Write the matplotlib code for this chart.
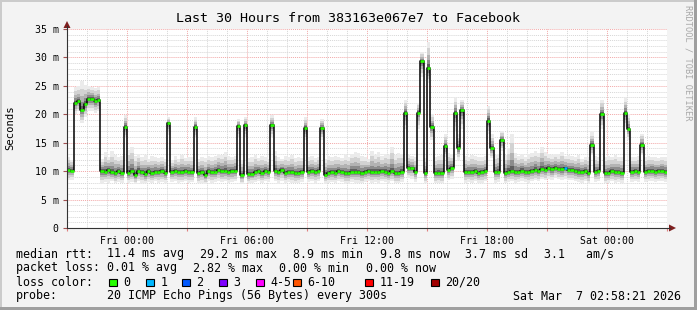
import matplotlib
matplotlib.use('Agg')
import matplotlib.pyplot as plt
import numpy as np
from matplotlib.patches import Rectangle, Polygon
from matplotlib.ticker import MultipleLocator, FixedLocator

# Data: 10 minute steps, hours relative to Fri 00:00
t_start = -3.0
step_h = 1 / 6

median_ms = [
    10.2, 10.1, 22.0, 22.3, 20.7, 21.8, 22.7, 22.7, 22.3, 22.5,
    10.0, 9.9, 10.2, 9.8, 9.6, 10.0, 9.7, 17.8, 9.7, 10.0,
    9.3, 10.1, 9.8, 9.5, 10.0, 9.6, 9.9, 9.8, 10.0, 9.7,
    18.4, 9.9, 10.0, 9.9, 9.8, 10.0, 9.9, 9.8, 17.8, 9.6,
    9.8, 9.3, 10.0, 9.8, 9.9, 10.2, 10.0, 10.1, 9.9, 10.0,
    10.1, 18.0, 9.3, 18.1, 9.5, 9.5, 9.8, 10.0, 9.7, 10.1,
    9.9, 18.1, 10.0, 9.8, 10.2, 9.7, 9.9, 9.8, 9.6, 9.7,
    9.9, 17.6, 9.9, 10.0, 9.8, 10.0, 17.6, 9.4, 9.7, 9.8,
    9.7, 10.0, 9.9, 9.6, 9.6, 9.9, 9.8, 9.8, 9.6, 9.9,
    10.0, 9.8, 9.9, 9.8, 10.0, 9.9, 9.7, 10.0, 9.6, 9.6,
    9.9, 20.3, 10.6, 10.5, 9.9, 20.3, 29.3, 9.6, 28.1, 17.8,
    9.6, 9.7, 9.6, 14.4, 10.2, 10.5, 20.3, 14.0, 20.7, 9.8,
    9.9, 9.8, 10.0, 9.7, 9.8, 10.0, 18.9, 14.1, 9.8, 9.9,
    15.5, 9.6, 9.9, 10.0, 9.8, 9.9, 10.1, 9.9, 9.8, 10.0,
    10.2, 10.0, 10.4, 10.2, 10.5, 10.3, 10.6, 10.4, 10.3, 10.5,
    10.2, 10.2, 10.0, 9.9, 9.8, 10.0, 9.6, 14.6, 9.9, 10.0,
    20.0, 9.6, 9.7, 10.0, 9.8, 9.9, 9.7, 20.3, 17.5, 9.9,
    10.0, 9.9, 14.6, 9.9, 10.0, 10.1, 9.9, 10.0, 10.1, 9.9,
]

ping_min = [
    8.4, 8.5, 20.0, 20.5, 18.5, 19.5, 20.5, 20.5, 20.3, 20.5,
    8.0, 8.1, 8.0, 8.2, 7.9, 8.1, 8.0, 15.8, 8.0, 8.1,
    7.8, 8.2, 8.0, 7.9, 8.1, 8.0, 8.2, 8.0, 8.1, 8.0,
    16.3, 8.1, 8.2, 8.0, 8.1, 8.2, 8.0, 8.1, 15.8, 7.9,
    8.0, 7.8, 8.2, 8.0, 8.1, 8.3, 8.1, 8.2, 8.0, 8.1,
    8.2, 16.0, 7.8, 16.0, 7.9, 8.0, 8.1, 8.2, 8.0, 8.2,
    8.1, 16.0, 8.2, 8.0, 8.3, 8.0, 8.1, 8.0, 7.9, 8.0,
    8.1, 15.5, 8.1, 8.2, 8.0, 8.2, 15.5, 7.8, 8.0, 8.1,
    8.0, 8.2, 8.1, 7.9, 7.9, 8.1, 8.0, 8.0, 7.9, 8.1,
    8.2, 8.0, 8.1, 8.0, 8.2, 8.1, 8.0, 8.2, 7.9, 7.9,
    8.1, 17.5, 8.8, 8.7, 8.1, 17.5, 26.5, 7.9, 25.5, 15.5,
    7.9, 8.0, 7.9, 12.5, 8.4, 8.7, 17.0, 12.0, 17.5, 8.0,
    8.1, 8.0, 8.2, 8.0, 8.0, 8.2, 16.5, 12.3, 8.0, 8.1,
    13.5, 7.9, 8.1, 8.2, 8.0, 8.1, 8.3, 8.1, 8.0, 8.2,
    8.4, 8.2, 8.6, 8.4, 8.7, 8.5, 8.8, 8.6, 8.5, 8.7,
    8.4, 8.4, 8.2, 8.1, 8.0, 8.2, 7.9, 12.8, 8.1, 8.2,
    17.5, 7.9, 8.0, 8.2, 8.0, 8.1, 8.0, 17.8, 15.5, 8.1,
    8.2, 8.1, 12.8, 8.1, 8.2, 8.3, 8.1, 8.2, 8.3, 8.1,
]

ping_max = [
    12.5, 12.0, 24.8, 25.0, 25.8, 25.2, 25.0, 24.8, 24.6, 24.8,
    12.2, 13.3, 12.5, 13.5, 12.8, 12.4, 12.6, 19.8, 13.8, 14.2,
    12.6, 13.0, 12.4, 12.8, 12.2, 12.6, 12.5, 12.3, 12.4, 12.2,
    19.5, 12.0, 12.6, 12.2, 12.8, 12.3, 12.5, 12.4, 19.5, 12.2,
    12.5, 12.3, 12.6, 12.4, 12.7, 13.0, 12.8, 13.4, 12.6, 12.5,
    12.7, 19.2, 12.0, 19.5, 12.3, 12.4, 12.8, 12.3, 12.6, 12.4,
    12.2, 19.8, 13.5, 12.5, 12.2, 12.6, 12.4, 12.8, 12.3, 12.4,
    12.3, 19.5, 12.4, 12.6, 12.3, 12.5, 19.2, 12.2, 12.6, 12.4,
    12.7, 12.5, 12.3, 12.8, 12.4, 13.0, 13.4, 13.2, 12.6, 12.4,
    12.2, 13.6, 12.8, 13.4, 12.6, 13.0, 12.9, 14.2, 12.8, 13.2,
    13.0, 22.5, 12.8, 12.6, 12.4, 22.0, 31.0, 12.3, 32.8, 20.0,
    12.5, 12.7, 12.8, 16.5, 13.2, 13.0, 22.8, 16.5, 22.6, 12.6,
    12.4, 12.8, 12.6, 12.5, 12.4, 12.6, 21.5, 16.5, 12.8, 13.0,
    17.0, 12.8, 14.0, 16.5, 13.2, 12.6, 12.8, 12.4, 13.0, 13.2,
    13.5, 13.2, 14.2, 13.4, 13.0, 12.8, 13.0, 12.8, 13.4, 12.6,
    12.8, 12.6, 12.4, 12.8, 12.2, 12.5, 12.4, 16.8, 12.6, 12.4,
    22.6, 12.4, 12.6, 12.5, 12.8, 12.5, 12.4, 22.8, 20.0, 12.5,
    12.4, 12.6, 16.6, 12.4, 12.6, 12.5, 12.4, 12.3, 12.5, 12.4,
]

# steps with packet loss (index, lost pings)
loss_idx = [149]
loss_cnt = [1]

x_ticks = [0, 6, 12, 18, 24]
x_labels = ['Fri 00:00', 'Fri 06:00', 'Fri 12:00', 'Fri 18:00', 'Sat 00:00']
y_ticks = [0, 5, 10, 15, 20, 25, 30, 35]
y_labels = ['0', '5 m', '10 m', '15 m', '20 m', '25 m', '30 m', '35 m']

rtt_stats = ['11.4 ms avg', '29.2 ms max', '8.9 ms min', '9.8 ms now', '3.7 ms sd', '3.1   am/s']
rtt_x = [107, 200, 293, 380, 465, 544]
loss_stats = ['0.01 % avg', '2.82 % max', '0.00 % min', '0.00 % now']
loss_x = [107, 193, 279, 366]
loss_labels = ['0', '1', '2', '3', '4-5', '6-10', '11-19', '20/20']
loss_colors = ['#26ff00', '#00b8ff', '#0059ff', '#7e00ff', '#ff00ff', '#ff5500', '#ff0000', '#a10000']
loss_box_x = [109, 146, 182, 219, 256, 293, 365, 431]

W, H = 697, 310
mono = 'DejaVu Sans Mono'


def fx(px):
    return px / W


def fy(py):
    return 1 - py / H


fig = plt.figure(figsize=(W / 100, H / 100), dpi=100)
fig.patch.set_facecolor('#f3f3f3')

ax = fig.add_axes([fx(67), fy(228), 600 / W, 199 / H])
ax.set_facecolor('white')
ax.set_xlim(-3, 27)
ax.set_ylim(0, 35)

med = np.array(median_ms)
lo = np.array(ping_min)
hi = np.array(ping_max)
n = len(med)
t = t_start + np.arange(n) * step_h
t_ext = np.append(t, t[-1] + step_h)


def ext(a):
    return np.append(a, a[-1])


# smoke layers, light outside, dark near the median
fracs = [1.0, 0.75, 0.5, 0.3, 0.14]
greys = ['#ebebeb', '#d2d2d2', '#b3b3b3', '#8c8c8c', '#5e5e5e']
for f, c in zip(fracs, greys):
    ax.fill_between(t_ext, ext(med - f * (med - lo)), ext(med + f * (hi - med)),
                    step='post', color=c, lw=0, zorder=2)

# median line
ax.step(t_ext, ext(med), where='post', color='black', lw=1.1, zorder=3)
seg_colors = [loss_colors[0]] * n
for i, c in zip(loss_idx, loss_cnt):
    seg_colors[i] = loss_colors[c]
ax.hlines(med, t, t + step_h, colors=seg_colors, lw=1.9, zorder=4)

# grid
ax.xaxis.set_major_locator(MultipleLocator(3))
ax.xaxis.set_minor_locator(MultipleLocator(1))
ax.yaxis.set_major_locator(FixedLocator(y_ticks))
ax.yaxis.set_minor_locator(MultipleLocator(1))
ax.grid(which='minor', color='#d6d6d6', linestyle=(0, (1, 1)), lw=0.7)
ax.grid(which='major', color='#f2a8a8', linestyle=(0, (1, 1)), lw=0.7)
ax.set_axisbelow(True)

major_x = np.arange(-3, 28, 3)
ax.set_xticks(major_x)
ax.set_xticklabels([x_labels[x_ticks.index(v)] if v in x_ticks else '' for v in major_x],
                   family=mono)
ax.set_yticklabels(y_labels, family=mono)
ax.tick_params(axis='x', which='major', length=2.5, color='#e08080', pad=3.5, labelsize=7.1)
ax.tick_params(axis='y', which='major', length=3, color='#a05050', pad=3, labelsize=7.1)
ax.tick_params(which='minor', length=0)
for s in ax.spines.values():
    s.set_visible(False)

fig.text(fx(10), fy(128), 'Seconds', family=mono, fontsize=7.6, rotation=90,
         ha='center', va='center')

# axis lines with arrows
fig.add_artist(plt.Line2D([fx(67), fx(670)], [fy(228), fy(228)], color='#333333', lw=0.8))
fig.add_artist(plt.Line2D([fx(67), fx(67)], [fy(228), fy(26)], color='#333333', lw=0.8))
fig.add_artist(Polygon([[fx(669), fy(224.5)], [fx(676), fy(228)], [fx(669), fy(231.5)]],
                       closed=True, color='#7f1f1f', lw=0))
fig.add_artist(Polygon([[fx(63.5), fy(28)], [fx(67), fy(21)], [fx(70.5), fy(28)]],
                       closed=True, color='#7f1f1f', lw=0))

# title and side note
fig.text(fx(348), fy(19), 'Last 30 Hours from 383163e067e7 to Facebook',
         family=mono, fontsize=9.6, ha='center', va='center')
fig.text(fx(688), fy(5), 'RRDTOOL / TOBI OETIKER', family=mono, fontsize=6.2,
         color='#a8a8a8', rotation=270, ha='center', va='top')

# legend block
fs = 8.4
fig.text(fx(16), fy(254), 'median rtt:', family=mono, fontsize=fs, va='center')
for x, s in zip(rtt_x, rtt_stats):
    fig.text(fx(x), fy(254), s, family=mono, fontsize=fs, va='center')
fig.text(fx(16), fy(268), 'packet loss:', family=mono, fontsize=fs, va='center')
for x, s in zip(loss_x, loss_stats):
    fig.text(fx(x), fy(268), s, family=mono, fontsize=fs, va='center')
fig.text(fx(16), fy(282), 'loss color:', family=mono, fontsize=fs, va='center')
for x, s, c in zip(loss_box_x, loss_labels, loss_colors):
    fig.add_artist(Rectangle((fx(x), fy(286)), 7.5 / W, 7.5 / H, facecolor=c,
                             edgecolor='black', lw=0.8))
    fig.text(fx(x + 14.5), fy(282), s, family=mono, fontsize=fs, va='center')
fig.text(fx(16), fy(296), 'probe:', family=mono, fontsize=fs, va='center')
fig.text(fx(107), fy(296), '20 ICMP Echo Pings (56 Bytes) every 300s',
         family=mono, fontsize=fs, va='center')
fig.text(fx(681), fy(296), 'Sat Mar  7 02:58:21 2026', family=mono, fontsize=fs,
         va='center', ha='right')

# frame shading
fig.add_artist(Rectangle((0, fy(2)), 1, 2 / H, color='#cbcbcb', lw=0))
fig.add_artist(Rectangle((0, 0), 2 / W, 1, color='#cbcbcb', lw=0))
fig.add_artist(Rectangle((0, 0), 1, 3 / H, color='#9f9f9f', lw=0))
fig.add_artist(Rectangle((fx(694), 0), 3 / W, 1, color='#9f9f9f', lw=0))

fig.savefig('out.png', dpi=100, facecolor=fig.get_facecolor())
